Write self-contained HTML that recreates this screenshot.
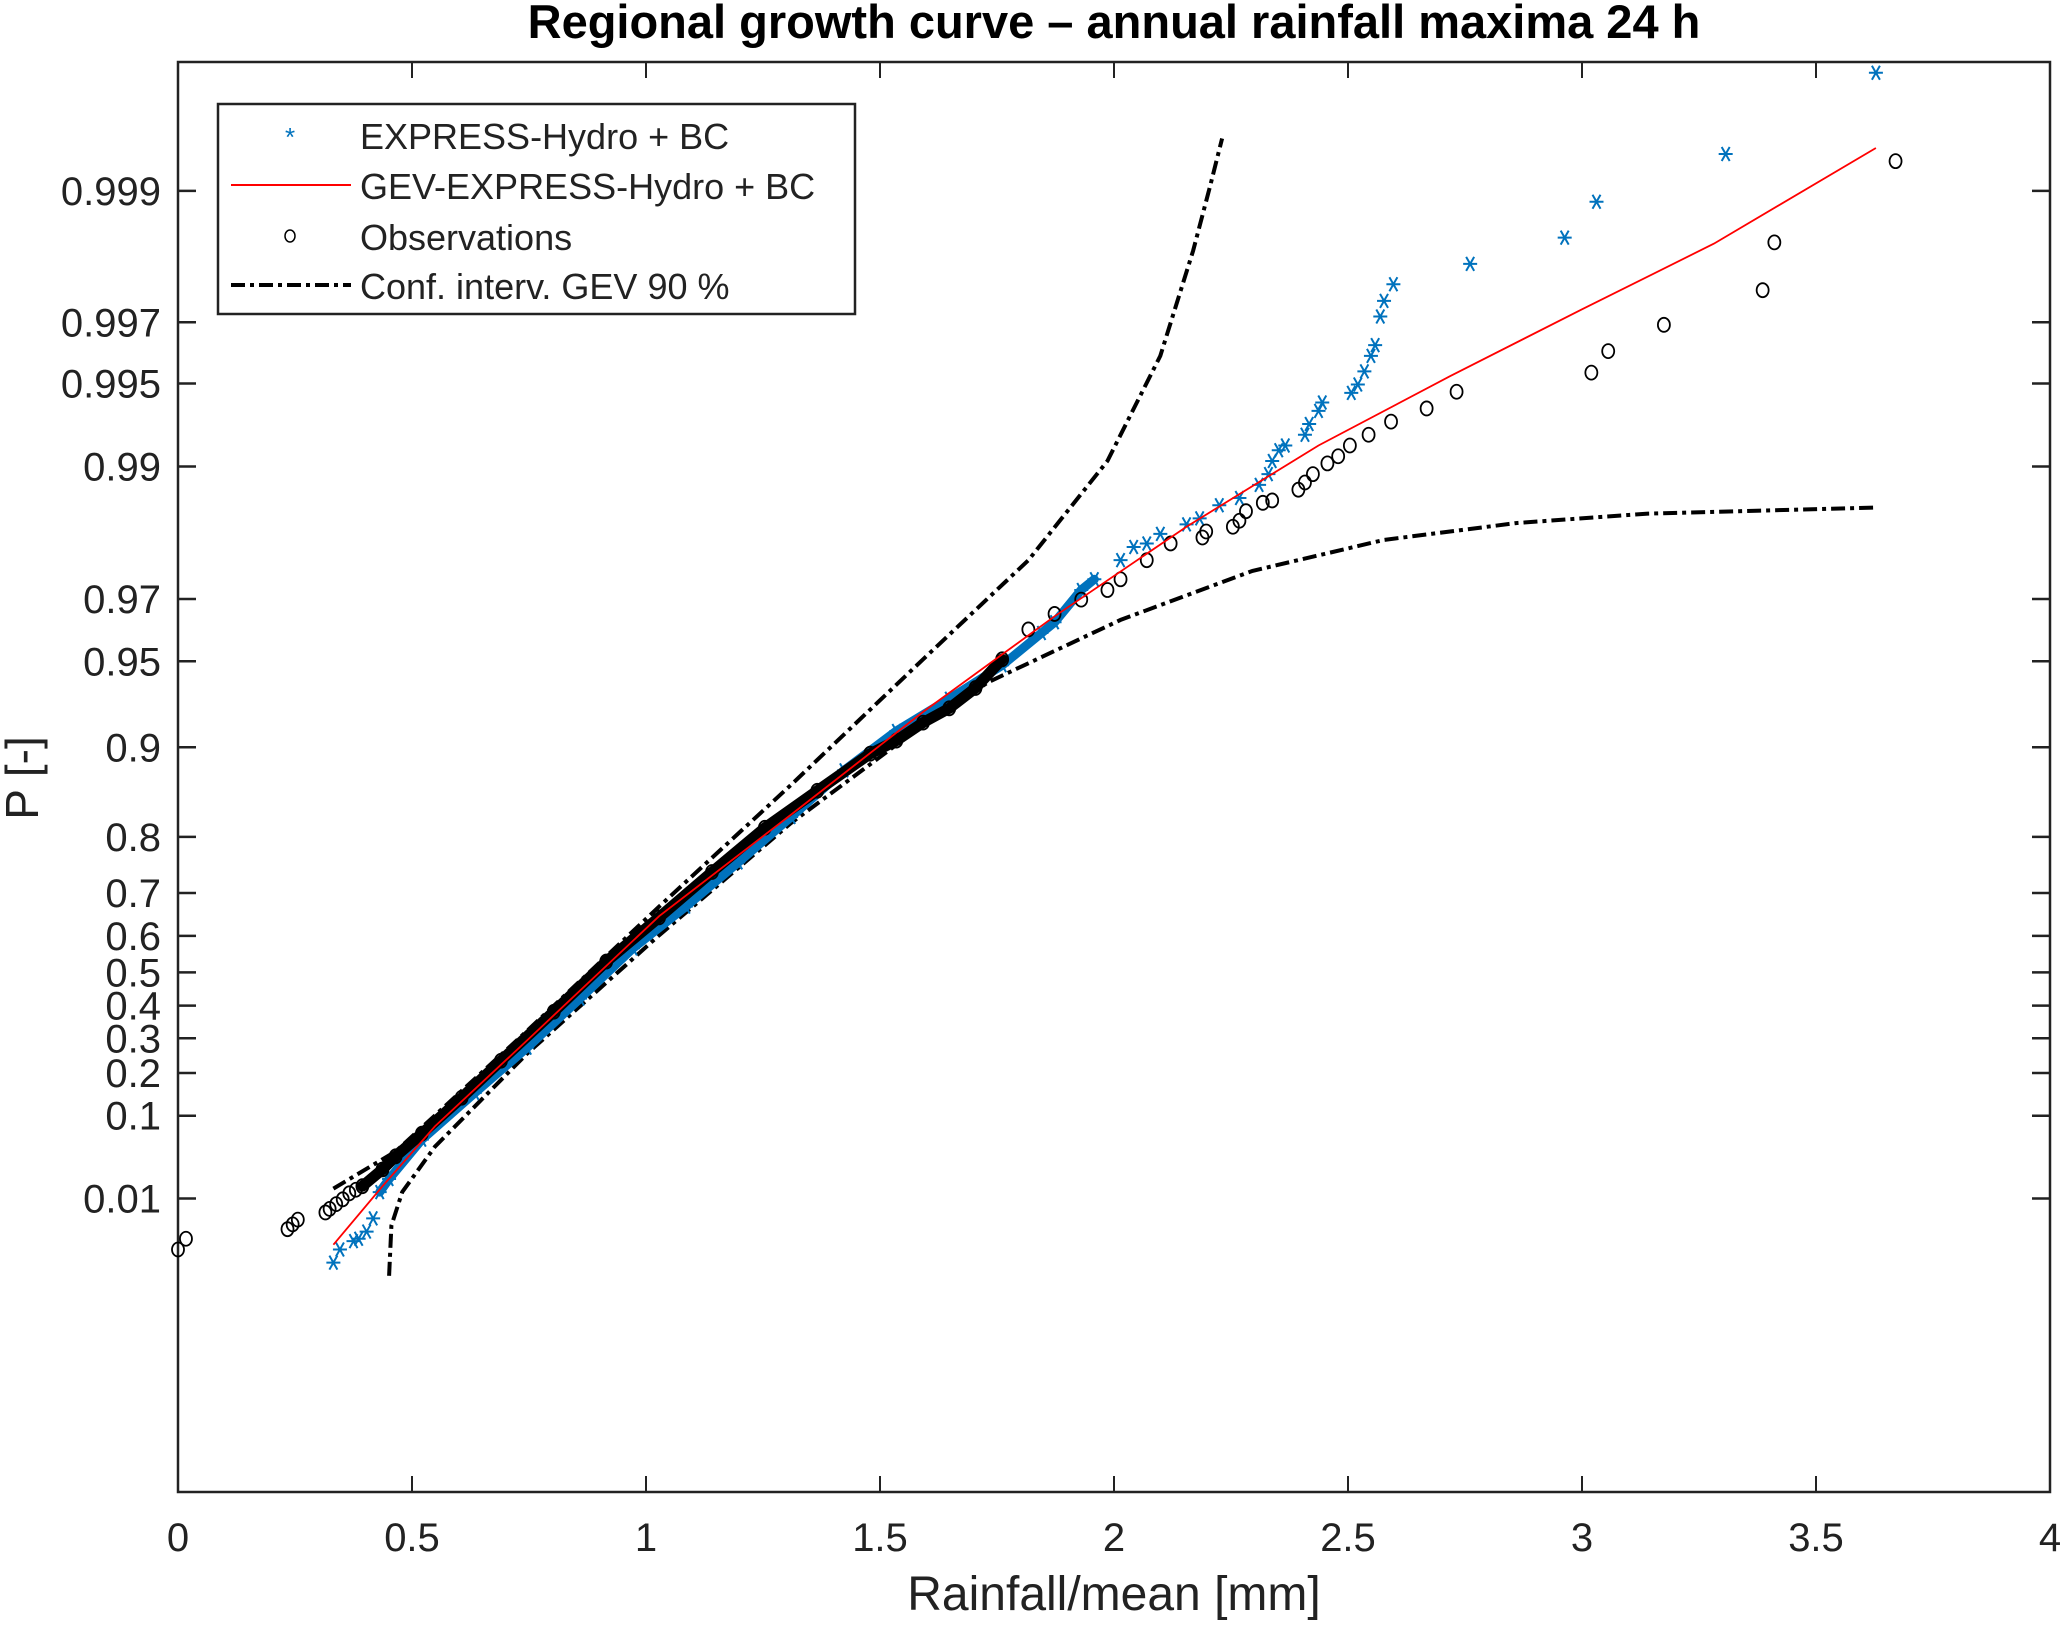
<!DOCTYPE html>
<html><head><meta charset="utf-8">
<style>
html,body{margin:0;padding:0;background:#fff;}
svg{display:block;font-family:"Liberation Sans",Arial,sans-serif;}
</style></head>
<body>
<svg id="chart" width="2067" height="1626" viewBox="0 0 2067 1626" xmlns="http://www.w3.org/2000/svg">
<rect x="0" y="0" width="2067" height="1626" fill="#fff"/>
<text x="1114" y="38" text-anchor="middle" font-size="47" font-weight="bold" fill="#000">Regional growth curve – annual rainfall maxima 24 h</text>
<g id="plot"></g>
<text x="1114" y="1610" text-anchor="middle" font-size="48" fill="#222">Rainfall/mean [mm]</text>
<text x="38" y="778" text-anchor="middle" font-size="46" fill="#222" transform="rotate(-90 38 778)">P [-]</text>
<g>
<rect x="218" y="104" width="637" height="210" fill="#fff" stroke="#222" stroke-width="2.5"/>
<g>
<text x="290" y="146" text-anchor="middle" font-size="26" fill="#0072BD">*</text>
<text x="360" y="149" font-size="36" fill="#222">EXPRESS-Hydro + BC</text></g>
<g>
<line x1="231" y1="185" x2="351" y2="185" stroke="#f00" stroke-width="2"/>
<text x="360" y="199" font-size="36" fill="#222">GEV-EXPRESS-Hydro + BC</text></g>
<g>
<ellipse cx="290" cy="236" rx="5" ry="6" fill="none" stroke="#000" stroke-width="1.5"/>
<text x="360" y="250" font-size="36" fill="#222">Observations</text></g>
<g>
<line x1="231" y1="285" x2="351" y2="285" stroke="#000" stroke-width="4" stroke-dasharray="14,5,4,5"/>
<text x="360" y="299" font-size="36" fill="#222">Conf. interv. GEV 90 %</text></g>
</g>
</svg>
<script>
// axis configuration (Gumbel probability paper)
const xTicks = [0, 0.5, 1, 1.5, 2, 2.5, 3, 3.5, 4];
const xTickLabels = ["0", "0.5", "1", "1.5", "2", "2.5", "3", "3.5", "4"];
const pTicks = [0.01, 0.1, 0.2, 0.3, 0.4, 0.5, 0.6, 0.7, 0.8, 0.9, 0.95, 0.97, 0.99, 0.995, 0.997, 0.999];
const pTickLabels = ["0.01", "0.1", "0.2", "0.3", "0.4", "0.5", "0.6", "0.7", "0.8", "0.9", "0.95", "0.97", "0.99", "0.995", "0.997", "0.999"];

// Observations: x = rainfall/mean, r = Gumbel reduced variate relative to median (-ln(-ln P) - 0.367)
const obsX = [0,0.017,0.234,0.245,0.256,0.315,0.324,0.338,0.352,0.366,0.380,0.394,0.437,0.465,0.521,0.606,0.690,0.803,0.915,1.028,1.141,1.254,1.366,1.479,1.535,1.592,1.648,1.704,1.761,1.817,1.873,1.930,1.986,2.014,2.070,2.121,2.189,2.197,2.254,2.268,2.282,2.318,2.338,2.394,2.408,2.425,2.456,2.479,2.504,2.544,2.592,2.668,2.732,3.020,3.056,3.175,3.386,3.411,3.670];
const obsR = [-2.32,-2.23,-2.15,-2.11,-2.07,-2.01,-1.98,-1.94,-1.90,-1.85,-1.82,-1.79,-1.65,-1.54,-1.35,-1.05,-0.74,-0.33,0.09,0.46,0.84,1.21,1.52,1.83,1.94,2.09,2.21,2.38,2.62,2.87,3.00,3.12,3.20,3.29,3.45,3.59,3.64,3.69,3.73,3.78,3.86,3.93,3.95,4.04,4.10,4.17,4.26,4.32,4.41,4.50,4.61,4.72,4.86,5.02,5.20,5.42,5.71,6.11,6.79];

// EXPRESS-Hydro + BC
const expX = [0.332,0.346,0.375,0.386,0.403,0.417,0.431,0.451,0.521,0.634,0.746,0.859,0.972,1.085,1.197,1.310,1.423,1.535,1.648,1.761,1.845,1.873,1.930,1.958,2.014,2.042,2.070,2.099,2.155,2.183,2.225,2.268,2.310,2.330,2.338,2.352,2.366,2.408,2.417,2.437,2.445,2.507,2.521,2.535,2.549,2.558,2.569,2.577,2.597,2.761,2.963,3.031,3.307,3.628];
const expR = [-2.43,-2.32,-2.25,-2.23,-2.17,-2.06,-1.84,-1.73,-1.40,-1.01,-0.63,-0.22,0.20,0.55,0.92,1.30,1.69,2.02,2.29,2.57,2.84,2.93,3.20,3.29,3.45,3.56,3.59,3.67,3.75,3.80,3.91,3.97,4.08,4.17,4.28,4.37,4.41,4.50,4.59,4.70,4.77,4.85,4.92,5.03,5.16,5.25,5.49,5.62,5.76,5.93,6.15,6.45,6.85,7.53];

// GEV fit
const gevX = [0.332,0.437,0.549,0.746,1.028,1.310,1.592,1.873,2.155,2.437,2.718,3.000,3.282,3.628];
const gevR = [-2.28,-1.79,-1.29,-0.57,0.47,1.32,2.18,2.98,3.73,4.41,4.99,5.55,6.10,6.90];

// Confidence interval 90 %
const ciUpX = [0.332,0.465,0.746,1.028,1.310,1.592,1.817,1.986,2.099,2.169,2.206,2.231];
const ciUpR = [-1.81,-1.50,-0.49,0.55,1.57,2.62,3.45,4.28,5.16,6.04,6.59,6.98];
const ciLoX = [0.451,0.456,0.479,0.549,0.746,1.028,1.310,1.592,1.732,2.014,2.296,2.577,2.859,3.141,3.628];
const ciLoR = [-2.54,-2.12,-1.84,-1.46,-0.68,0.31,1.25,2.07,2.43,2.95,3.36,3.62,3.76,3.84,3.89];

const L = 178, R = 2050, T = 62, B = 1492;
const xMin = 0, xMax = 4, rMin = -4.35, rMax = 7.62;
function px(x){ return L + (x - xMin) / (xMax - xMin) * (R - L); }
function pyR(r){ return B - (r - rMin) / (rMax - rMin) * (B - T); }
function gum(p){ return -Math.log(-Math.log(p)); }
function pyP(p){ return pyR(gum(p) - gum(0.5)); }

const NS = "http://www.w3.org/2000/svg";
const plot = document.getElementById("plot");
function mk(tag, attrs, parent){
  const e = document.createElementNS(NS, tag);
  for (const k in attrs) e.setAttribute(k, attrs[k]);
  (parent || plot).appendChild(e);
  return e;
}
function pathD(xs, rs){ return xs.map((x,i)=>(i?"L":"M")+px(x).toFixed(1)+","+pyR(rs[i]).toFixed(1)).join(" "); }

const box = mk("rect", {x:L, y:T, width:R-L, height:B-T, fill:"none", stroke:"#222", "stroke-width":2.5});



xTicks.forEach((v,i)=>{
  const x = px(v);
  mk("line", {x1:x, y1:B, x2:x, y2:B-16, stroke:"#222", "stroke-width":2});
  mk("line", {x1:x, y1:T, x2:x, y2:T+16, stroke:"#222", "stroke-width":2});
  const t = mk("text", {x:x, y:1551, "text-anchor":"middle", "font-size":40, fill:"#222"});
  t.textContent = xTickLabels[i];
  
  
});
pTicks.forEach((p,i)=>{
  const y = pyP(p);
  mk("line", {x1:L, y1:y, x2:L+18, y2:y, stroke:"#222", "stroke-width":2.5});
  mk("line", {x1:R, y1:y, x2:R-18, y2:y, stroke:"#222", "stroke-width":2.5});
  const t = mk("text", {x:161, y:y+14, "text-anchor":"end", "font-size":40, fill:"#222"});
  t.textContent = pTickLabels[i];
  
  
});

[[ciUpX,ciUpR,'ci-upper-curve'],[ciLoX,ciLoR,'ci-lower-curve']].forEach(c=>{
  const e = mk("path", {d:pathD(c[0],c[1]), fill:"none", stroke:"#000", "stroke-width":4, "stroke-dasharray":"14,5,4,5"});
  
  
});

const gExp = mk("g", {});


const band = mk("path", {d:pathD(expX.slice(6,24), expR.slice(6,24)), fill:"none", stroke:"#0072BD", "stroke-width":9, "stroke-linecap":"round"}, gExp);


expX.forEach((x,i)=>{
  const cx = px(x), cy = pyR(expR[i]);
  const s = mk("path", {d:`M${cx-7},${cy}L${cx+7},${cy}M${cx-4},${cy-7}L${cx+4},${cy+7}M${cx+4},${cy-7}L${cx-4},${cy+7}`, stroke:"#0072BD", "stroke-width":2}, gExp);
  
  
});

const gObs = mk("g", {});


const dense = mk("path", {d:pathD(obsX.slice(11,29), obsR.slice(11,29)), fill:"none", stroke:"#000", "stroke-width":11, "stroke-linecap":"round"}, gObs);


obsX.forEach((x,i)=>{
  const c = mk("ellipse", {cx:px(x), cy:pyR(obsR[i]), rx:6, ry:7, fill:"none", stroke:"#000", "stroke-width":1.8}, gObs);
  
  
});

const gev = mk("path", {d:pathD(gevX,gevR), fill:"none", stroke:"#f00", "stroke-width":1.8});


</script>
</body></html>
